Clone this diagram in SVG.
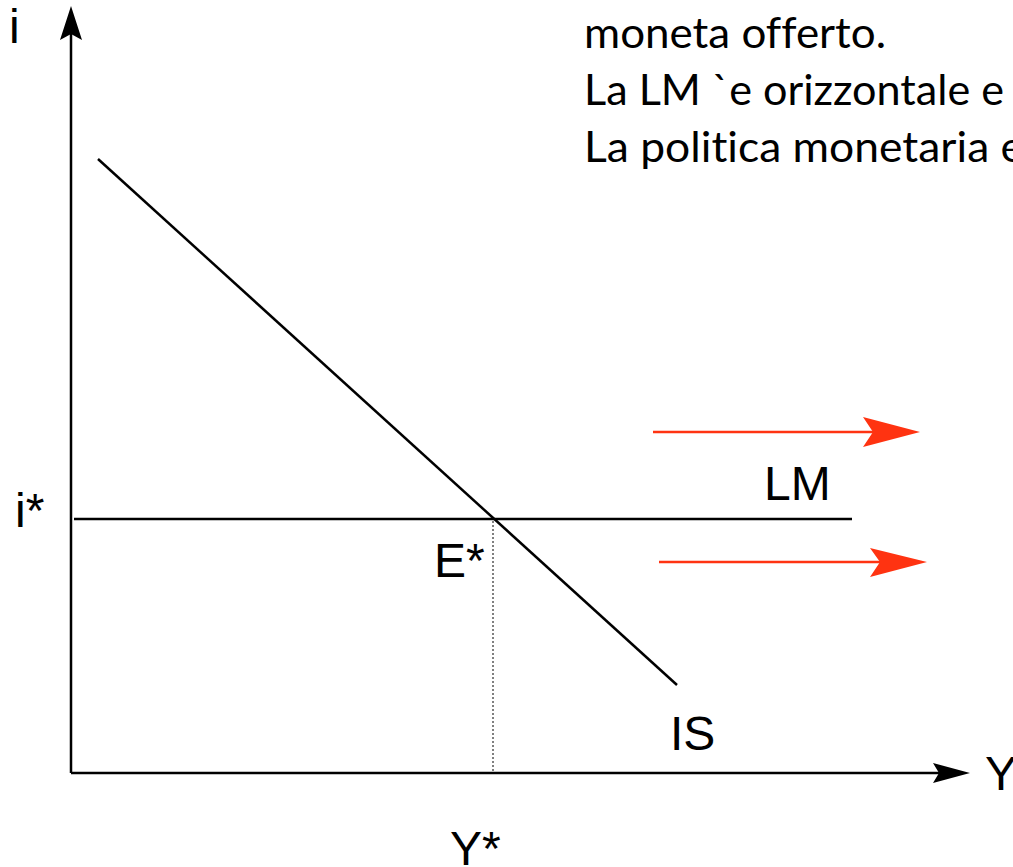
<svg xmlns="http://www.w3.org/2000/svg" width="1013" height="867" viewBox="0 0 1013 867">
<style>
.ax{stroke:#000;stroke-width:2.5;fill:none}
.red{stroke:#ff3311;stroke-width:2.5;fill:none}
.lbl{font-family:"Liberation Sans",Arial,sans-serif;font-size:48px;fill:#000}
.note{font-family:Lato,"Open Sans",sans-serif;font-size:42px;fill:#000;font-variant-ligatures:none}
</style>
<rect width="1013" height="867" fill="#fff"/>
<g id="connectors">
<line class="ax" x1="71" y1="773" x2="71" y2="30"/>
<polygon points="71,6 82,40 71,34 60,40" fill="#000"/>
<line class="ax" x1="71" y1="773" x2="945" y2="773"/>
<polygon points="970,773 933,783 939,773 933,763" fill="#000"/>
<line class="ax" x1="74" y1="519" x2="852" y2="519"/>
<line class="ax" x1="98" y1="159" x2="677" y2="685"/>
<line x1="493" y1="521" x2="493" y2="773" stroke="#000" stroke-width="1" stroke-dasharray="2,2"/>
<line class="red" x1="653" y1="432" x2="875" y2="432"/>
<polygon points="920,432 863,417 873,432 863,447" fill="#ff3311"/>
<line class="red" x1="659" y1="562" x2="882" y2="562"/>
<polygon points="927,562 870,548 880,562 870,577" fill="#ff3311"/>
</g>
<g id="labels">
<text class="lbl" x="9" y="43">i</text>
<text class="lbl" x="15" y="527">i*</text>
<text class="lbl" x="764" y="500">LM</text>
<text class="lbl" x="434" y="577">E*</text>
<text class="lbl" x="670" y="750">IS</text>
<text class="lbl" x="450" y="865">Y*</text>
<text class="lbl" x="985" y="790">Y</text>
</g>
<g id="note">
<text class="note" x="584" y="48" textLength="302" lengthAdjust="spacingAndGlyphs">moneta offerto.</text>
<text class="note" x="584" y="105" textLength="420" lengthAdjust="spacingAndGlyphs">La LM `e orizzontale e</text>
<text class="note" x="584" y="162" textLength="440" lengthAdjust="spacingAndGlyphs">La politica monetaria e</text>
</g>
</svg>
